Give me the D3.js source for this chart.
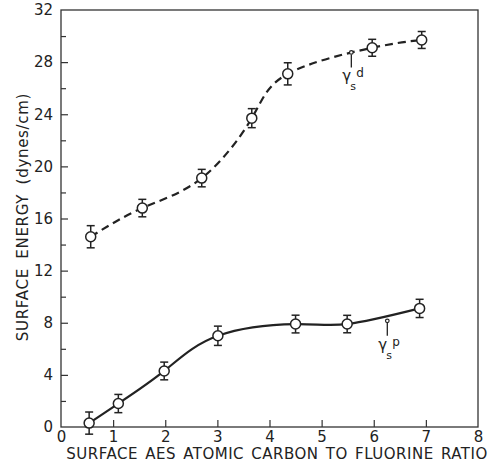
<!DOCTYPE html>
<html>
<head>
<meta charset="utf-8">
<script src="https://cdn.jsdelivr.net/npm/d3@7"></script>
<style>
  body { margin: 0; background: #fff; }
  svg { display: block; }
  text { font-family: "DejaVu Sans", sans-serif; fill: #222; }
  .axis text { font-size: 15px; }
  .axis line { stroke: #333; stroke-width: 1.2; }
</style>
</head>
<body>
<div id="plot"></div>
<script>
// dispersive component (dashed curve)
const dispX = [0.57, 1.56, 2.70, 3.66, 4.35, 5.97, 6.92],
      dispY = [14.6, 16.8, 19.1, 23.7, 27.1, 29.1, 29.7],
      dispErr = [0.85, 0.67, 0.67, 0.73, 0.85, 0.65, 0.65];

// polar component (solid curve)
const polX = [0.54, 1.10, 1.98, 3.01, 4.50, 5.49, 6.88],
      polY = [0.3, 1.8, 4.3, 7.0, 7.9, 7.9, 9.1],
      polErr = [0.85, 0.7, 0.68, 0.74, 0.68, 0.67, 0.7];

const xTicks = [0, 1, 2, 3, 4, 5, 6, 7, 8],
      yTicks = [0, 4, 8, 12, 16, 20, 24, 28, 32],
      yMinor = [2, 6, 10, 14, 18, 22, 26, 30];

const w = 496, h = 467,
      margin = {top: 10, right: 18, bottom: 40, left: 61};

const svg = d3.select("#plot").append("svg")
  .attr("width", w)
  .attr("height", h);

const xScale = d3.scaleLinear().domain([0, 8]).range([margin.left, w - margin.right]),
      yScale = d3.scaleLinear().domain([0, 32]).range([h - margin.bottom, margin.top]);

const ink = "#222";

// axes, ticks inside
const xAxis = svg.append("g")
  .attr("class", "axis")
  .attr("transform", `translate(0, ${yScale(0)})`)
  .call(d3.axisBottom(xScale).tickValues(xTicks).tickSizeInner(-7).tickSizeOuter(0).tickPadding(4));
xAxis.select(".domain").remove();
xAxis.selectAll(".tick").filter(d => d === 0 || d === 8).select("line").remove();

const yAxis = svg.append("g")
  .attr("class", "axis")
  .attr("transform", `translate(${xScale(0)}, 0)`)
  .call(d3.axisLeft(yScale).tickValues(yTicks).tickSizeInner(-7).tickSizeOuter(0).tickPadding(8));
yAxis.select(".domain").remove();
yAxis.selectAll(".tick").filter(d => d === 0 || d === 32).select("line").remove();

const yMinorAxis = svg.append("g")
  .attr("class", "axis")
  .attr("transform", `translate(${xScale(0)}, 0)`)
  .call(d3.axisLeft(yScale).tickValues(yMinor).tickSizeInner(-5).tickSizeOuter(0).tickFormat(""));
yMinorAxis.select(".domain").remove();

// frame
svg.append("rect")
  .attr("x", xScale(0))
  .attr("y", yScale(32))
  .attr("width", xScale(8) - xScale(0))
  .attr("height", yScale(0) - yScale(32))
  .attr("fill", "none")
  .attr("stroke", "#333")
  .attr("stroke-width", 1.3);

// axis titles
svg.append("text")
  .attr("x", 277)
  .attr("y", 459)
  .style("text-anchor", "middle")
  .style("font-size", "15px")
  .style("letter-spacing", "0.5px")
  .style("word-spacing", "2px")
  .text("SURFACE AES ATOMIC CARBON TO FLUORINE RATIO");

svg.append("text")
  .attr("transform", `translate(28, 217) rotate(-90)`)
  .style("text-anchor", "middle")
  .style("font-size", "15px")
  .style("letter-spacing", "0.7px")
  .style("word-spacing", "4px")
  .text("SURFACE ENERGY (dynes/cm)");

// curves
const line = d3.line()
  .x(d => xScale(d[0]))
  .y(d => yScale(d[1]))
  .curve(d3.curveNatural);

const dispPts = dispX.map((x, i) => [x, dispY[i], dispErr[i]]),
      polPts = polX.map((x, i) => [x, polY[i], polErr[i]]);

svg.append("path")
  .datum(dispPts)
  .attr("d", line)
  .attr("fill", "none")
  .attr("stroke", ink)
  .attr("stroke-width", 2.2)
  .style("stroke-dasharray", "8, 5");

svg.append("path")
  .datum(polPts)
  .attr("d", line)
  .attr("fill", "none")
  .attr("stroke", ink)
  .attr("stroke-width", 2.2);

// error bars and markers
const drawPoints = (pts) => {
  const gp = svg.append("g");
  const p = gp.selectAll("g").data(pts).join("g");
  p.append("line")
    .attr("x1", d => xScale(d[0])).attr("x2", d => xScale(d[0]))
    .attr("y1", d => yScale(d[1] - d[2])).attr("y2", d => yScale(d[1] + d[2]))
    .attr("stroke", ink).attr("stroke-width", 1.5);
  [-1, 1].forEach(s => {
    p.append("line")
      .attr("x1", d => xScale(d[0]) - 4).attr("x2", d => xScale(d[0]) + 4)
      .attr("y1", d => yScale(d[1] + s * d[2])).attr("y2", d => yScale(d[1] + s * d[2]))
      .attr("stroke", ink).attr("stroke-width", 1.5);
  });
  p.append("circle")
    .attr("cx", d => xScale(d[0]))
    .attr("cy", d => yScale(d[1]))
    .attr("r", 5)
    .attr("fill", "#fff")
    .attr("stroke", ink)
    .attr("stroke-width", 1.5);
};
drawPoints(dispPts);
drawPoints(polPts);

// curve labels with leader lines
const labels = [
  {x: 5.57, y: 28.9, sup: "d"},
  {x: 6.26, y: 8.3, sup: "p"}
];
labels.forEach(l => {
  const lx = xScale(l.x), ly = yScale(l.y);
  svg.append("circle").attr("cx", lx).attr("cy", ly + 2).attr("r", 1.8)
    .attr("fill", "#fff").attr("stroke", ink).attr("stroke-width", 1.2);
  svg.append("line")
    .attr("x1", lx).attr("x2", lx)
    .attr("y1", ly + 4).attr("y2", ly + 17)
    .attr("stroke", ink).attr("stroke-width", 1.3);
  svg.append("text")
    .attr("x", lx - 9).attr("y", ly + 31)
    .style("font-size", "15px")
    .text("γ");
  svg.append("text")
    .attr("x", lx - 1).attr("y", ly + 40)
    .style("font-size", "11px")
    .text("s");
  svg.append("text")
    .attr("x", lx + 5).attr("y", ly + 27)
    .style("font-size", "12px")
    .text(l.sup);
});
</script>
</body>
</html>
